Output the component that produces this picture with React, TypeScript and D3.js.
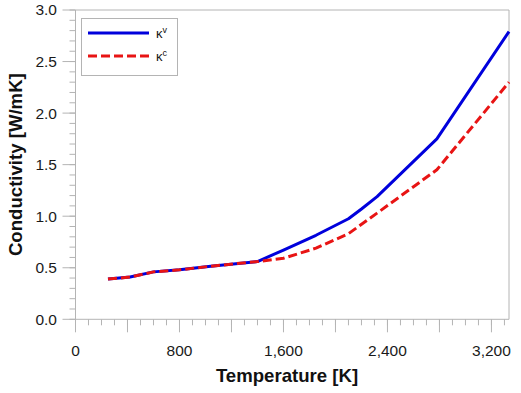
import React from "react";
import * as d3 from "d3";

const tempV = [250, 420, 600, 800, 1040, 1400, 1600, 1850, 2100, 2200, 2320, 2780, 3335];
const kappaV = [0.39, 0.41, 0.46, 0.48, 0.515, 0.56, 0.672, 0.815, 0.975, 1.07, 1.19, 1.75, 2.79];
const tempC = [250, 420, 600, 800, 1040, 1400, 1600, 1850, 2100, 2320, 2780, 3335];
const kappaC = [0.39, 0.41, 0.46, 0.48, 0.515, 0.56, 0.592, 0.69, 0.83, 1.03, 1.45, 2.3];

const xMinorTicks = d3.range(0, 3301, 100);
const xMajorTicks = d3.range(0, 3301, 400);
const xLabelTicks = [0, 800, 1600, 2400, 3200];
const yMinorTicks = d3.range(0, 31).map((i) => i / 10);
const yMajorTicks = [0, 0.5, 1, 1.5, 2, 2.5, 3];

const W = 521;
const H = 393;
const left = 75.5;
const right = 509;
const top = 10;
const bottom = 319.3;

const AX = "#b4b4b4";
const BLUE = "#0000dc";
const RED = "#e81414";

export default function App() {
  const x = d3.scaleLinear().domain([0, 3335]).range([left, right]);
  const y = d3.scaleLinear().domain([0, 3]).range([bottom, top]);
  const line = d3
    .line<[number, number]>()
    .x((d) => x(d[0]))
    .y((d) => y(d[1]));
  const dataV: [number, number][] = tempV.map((t, i) => [t, kappaV[i]]);
  const dataC: [number, number][] = tempC.map((t, i) => [t, kappaC[i]]);
  const fx = d3.format(",");
  const fy = d3.format(".1f");
  const font = "'Liberation Sans', Arial, sans-serif";

  return (
    <svg
      width={W}
      height={H}
      style={{ position: "absolute", left: 0, top: 0, background: "#fff" }}
      fontFamily={font}
    >
      <rect x={0} y={0} width={W} height={H} fill="#fff" />
      {/* frame */}
      <line x1={left} x2={right} y1={top} y2={top} stroke={AX} strokeWidth={1} />
      <line x1={right} x2={right} y1={top} y2={bottom} stroke={AX} strokeWidth={1} />
      <line x1={left} x2={right} y1={bottom} y2={bottom} stroke={AX} strokeWidth={1} />
      <line x1={left} x2={left} y1={top} y2={bottom} stroke={AX} strokeWidth={1} />
      {/* x ticks */}
      {xMinorTicks.map((t) => (
        <line key={"xm" + t} x1={x(t)} x2={x(t)} y1={bottom} y2={bottom + 6} stroke={AX} />
      ))}
      {xMajorTicks.map((t) => (
        <line key={"xM" + t} x1={x(t)} x2={x(t)} y1={bottom} y2={bottom + 13} stroke={AX} />
      ))}
      {xLabelTicks.map((t) => (
        <text key={"xl" + t} x={x(t)} y={356} textAnchor="middle" fontSize={15.5} fill="#1a1a1a">
          {fx(t)}
        </text>
      ))}
      {/* y ticks */}
      {yMinorTicks.map((v) => (
        <line key={"ym" + v} x1={left - 6} x2={left} y1={y(v)} y2={y(v)} stroke={AX} />
      ))}
      {yMajorTicks.map((v) => (
        <line key={"yM" + v} x1={left - 13} x2={left} y1={y(v)} y2={y(v)} stroke={AX} />
      ))}
      {yMajorTicks.map((v) => (
        <text
          key={"yl" + v}
          x={57}
          y={y(v)}
          dy="0.35em"
          textAnchor="end"
          fontSize={15.5}
          fill="#1a1a1a"
        >
          {fy(v)}
        </text>
      ))}
      {/* titles */}
      <text x={287} y={382} textAnchor="middle" fontSize={18.6} fontWeight="bold" fill="#111">
        Temperature [K]
      </text>
      <text
        transform={`translate(22,${(top + bottom) / 2}) rotate(-90)`}
        textAnchor="middle"
        fontSize={18.6}
        fontWeight="bold"
        fill="#111"
      >
        Conductivity [W/mK]
      </text>
      {/* lines */}
      <path d={line(dataV) || ""} fill="none" stroke={BLUE} strokeWidth={3} strokeLinejoin="round" />
      <path
        d={line(dataC) || ""}
        fill="none"
        stroke={RED}
        strokeWidth={3}
        strokeDasharray="9,4"
        strokeLinejoin="round"
      />
      {/* legend */}
      <rect x={81.5} y={18.5} width={96} height={57} fill="#fff" stroke={AX} strokeWidth={1} />
      <line x1={88} x2={149} y1={33} y2={33} stroke={BLUE} strokeWidth={3} />
      <line x1={88} x2={149} y1={56} y2={56} stroke={RED} strokeWidth={3} strokeDasharray="9,4" />
      <text x={156} y={38} fontSize={13} fill="#111">
        κ<tspan dy={-5} fontSize={9}>v</tspan>
      </text>
      <text x={156} y={61} fontSize={13} fill="#111">
        κ<tspan dy={-5} fontSize={9}>c</tspan>
      </text>
    </svg>
  );
}
